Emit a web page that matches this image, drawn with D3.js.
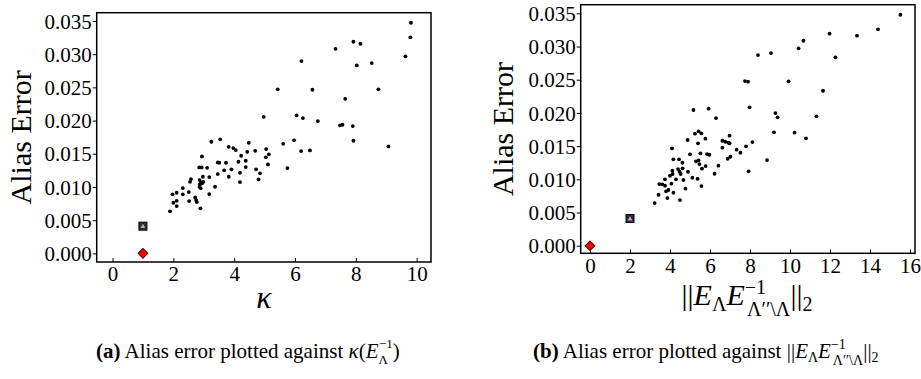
<!DOCTYPE html>
<html>
<head>
<meta charset="utf-8">
<script src="https://cdn.jsdelivr.net/npm/d3@7"></script>
<style>
  body { margin: 0; background: #fff; }
  svg { display: block; }
  text { font-family: "Liberation Serif", serif; fill: #000; }
</style>
</head>
<body>
<svg id="chart" width="921" height="379"></svg>
<script>
// kappa(E^-1) vs alias error (panel a)
const kappaX = [1.89, 1.97, 2.11, 2.0, 2.11, 2.11, 2.31, 2.31, 2.51, 2.52, 2.55, 2.58, 2.72, 2.75, 2.77,
  2.86, 2.85, 2.93, 2.94, 2.9, 2.87, 2.86, 2.9, 2.94, 2.97, 2.99, 2.89, 3.11, 3.18, 3.18, 3.25, 3.37,
  3.46, 3.46, 3.54, 3.51, 3.67, 3.73, 3.82, 3.82, 3.91, 3.97, 4.05, 4.14, 4.19, 4.19, 4.23, 4.38, 4.38,
  4.43, 4.48, 4.69, 4.72, 4.85, 4.8, 4.97, 5.05, 5.04, 5.14, 5.11, 5.43, 5.61, 5.75, 5.97, 6.05, 6.21,
  6.2, 6.26, 6.49, 6.57, 6.75, 7.33, 7.48, 7.56, 7.65, 7.9, 7.92, 7.92, 8.03, 8.15, 8.52, 8.74, 9.81,
  9.79, 9.63, 9.07];
const kappaErr = [0.00633, 0.00889, 0.00913, 0.00762, 0.00792, 0.00712, 0.00983, 0.00889, 0.00923, 0.00788,
  0.01078, 0.01119, 0.00843, 0.00803, 0.00773, 0.01104, 0.01295, 0.01295, 0.0146, 0.01074, 0.01039,
  0.01003, 0.00979, 0.01054, 0.01154, 0.01078, 0.00678, 0.01289, 0.01149, 0.00893, 0.01681, 0.01003,
  0.01194, 0.0137, 0.01717, 0.01365, 0.0125, 0.01365, 0.01605, 0.01154, 0.01265, 0.01586, 0.01556,
  0.0138, 0.01214, 0.01074, 0.0147, 0.01395, 0.013, 0.0153, 0.01666, 0.01545, 0.01265, 0.01205, 0.01114,
  0.02057, 0.01571, 0.01446, 0.01491, 0.0134, 0.0247, 0.0165, 0.01285, 0.01702, 0.02078, 0.02896,
  0.01541, 0.02038, 0.01551, 0.02464, 0.01992, 0.03081, 0.01928, 0.01937, 0.02328, 0.01917, 0.03187,
  0.01696, 0.02831, 0.03157, 0.02866, 0.0247, 0.03473, 0.03253, 0.02967, 0.01611];

// ||E E^-1||_2 vs alias error (panel b)
const normX = [3.23, 3.43, 3.47, 3.62, 3.75, 3.75, 3.8, 3.87, 3.92, 4.0, 4.07, 4.1, 4.12, 4.13, 4.17, 4.17,
  4.3, 4.4, 4.45, 4.48, 4.5, 4.53, 4.62, 4.63, 4.67, 4.77, 4.88, 4.9, 5.0, 5.12, 5.17, 5.25, 5.3, 5.38,
  5.4, 5.43, 5.43, 5.47, 5.52, 5.57, 5.57, 5.6, 5.77, 5.78, 5.85, 5.93, 5.97, 6.23, 6.3, 6.42, 6.62,
  6.62, 6.77, 6.88, 6.93, 6.98, 6.98, 7.02, 7.33, 7.52, 7.75, 7.8, 7.9, 7.93, 7.98, 8.12, 8.4, 8.85,
  9.05, 9.2, 9.27, 9.38, 9.93, 10.23, 10.43, 10.67, 10.8, 11.32, 11.65, 11.98, 12.27, 13.35, 14.4, 15.52];
const normErr = [0.00643, 0.00768, 0.00929, 0.00925, 0.01, 0.00904, 0.00819, 0.00718, 0.00839, 0.01054,
  0.00934, 0.01467, 0.0113, 0.0108, 0.01301, 0.00798, 0.01, 0.01155, 0.01301, 0.01114, 0.00688, 0.0108,
  0.0125, 0.01165, 0.0099, 0.00859, 0.01592, 0.01114, 0.01376, 0.01024, 0.02044, 0.01687, 0.01271,
  0.01009, 0.01542, 0.01723, 0.01286, 0.0123, 0.01391, 0.01693, 0.00899, 0.0116, 0.01612, 0.012,
  0.01381, 0.02064, 0.0137, 0.01084, 0.01923, 0.01205, 0.01581, 0.01476, 0.01566, 0.0131, 0.01551,
  0.01657, 0.01542, 0.0134, 0.01446, 0.014, 0.0248, 0.01497, 0.0247, 0.0112, 0.02084, 0.01561, 0.02872,
  0.0129, 0.02902, 0.01708, 0.01998, 0.01934, 0.02476, 0.01702, 0.02973, 0.03087, 0.01617, 0.01949,
  0.02334, 0.03193, 0.02837, 0.03163, 0.03259, 0.03479];

// the two highlighted sets: [x, error]
const kappaSquare = [1, 0.0041];
const kappaDiamond = [1, 0];
const normSquare = [2, 0.0041];
const normDiamond = [0, 0];

const yTicks = [0, 0.005, 0.01, 0.015, 0.02, 0.025, 0.03, 0.035];
const kappaTicks = [0, 2, 4, 6, 8, 10];
const normTicks = [0, 2, 4, 6, 8, 10, 12, 14, 16];

const serif = "'Liberation Serif', serif";
const svg = d3.select("#chart");

// append a run of text pieces, each with its own style and offset
function richText(parent, x, y, size, anchor, parts) {
  const t = parent.append("text")
    .attr("x", x).attr("y", y)
    .attr("font-size", size)
    .attr("font-family", serif)
    .attr("text-anchor", anchor);
  parts.forEach(p => {
    const s = t.append("tspan").text(p.t);
    if (p.it) s.attr("font-style", "italic");
    if (p.b) s.attr("font-weight", "bold");
    if (p.fs) s.attr("font-size", p.fs);
    if (p.dx) s.attr("dx", p.dx);
    if (p.dy) s.attr("dy", p.dy);
  });
  return t;
}

function drawPanel(opt) {
  const x = d3.scaleLinear().domain(opt.xDomain).range([opt.left, opt.right]);
  const y = d3.scaleLinear().domain(opt.yDomain).range([opt.bottom, opt.top]);
  const g = svg.append("g");

  const xAxis = g.append("g")
    .attr("transform", "translate(0," + opt.bottom + ")")
    .call(d3.axisBottom(x).tickValues(opt.xTicks).tickSize(-4).tickFormat(d3.format("d")))
    .attr("font-family", serif).attr("font-size", 21);
  xAxis.select(".domain").remove();
  xAxis.selectAll("text").attr("dy", 0).attr("y", opt.xLabelOffset);

  const yAxis = g.append("g")
    .attr("transform", "translate(" + opt.left + ",0)")
    .call(d3.axisLeft(y).tickValues(yTicks).tickSize(4).tickPadding(1).tickFormat(d3.format(".3f")))
    .attr("font-family", serif).attr("font-size", 21);
  yAxis.select(".domain").remove();
  yAxis.selectAll("text").attr("dy", "0.34em");
  g.selectAll(".tick line").attr("stroke", "#000").attr("stroke-width", 1);

  g.append("rect")
    .attr("x", opt.left).attr("y", opt.top)
    .attr("width", opt.right - opt.left).attr("height", opt.bottom - opt.top)
    .attr("fill", "none").attr("stroke", "#000").attr("stroke-width", 1.5);

  g.append("g").selectAll("circle")
    .data(d3.range(opt.xs.length))
    .join("circle")
    .attr("cx", i => x(opt.xs[i]))
    .attr("cy", i => y(opt.ys[i]))
    .attr("r", 1.9)
    .attr("fill", "#000");

  // square with a small triangle inside
  const sx = x(opt.square[0]), sy = y(opt.square[1]);
  g.append("rect")
    .attr("x", sx - 4).attr("y", sy - 4).attr("width", 8).attr("height", 8)
    .attr("fill", "#1e2a66").attr("stroke", "#000").attr("stroke-width", 1);
  g.append("path")
    .attr("transform", "translate(" + sx + "," + (sy + 0.5) + ")")
    .attr("d", d3.symbol(d3.symbolTriangle, 10)())
    .attr("fill", "#f5a623");

  const dx = x(opt.diamond[0]), dy = y(opt.diamond[1]);
  g.append("path")
    .attr("transform", "translate(" + dx + "," + dy + ") rotate(45)")
    .attr("d", "M-3.4,-3.4H3.4V3.4H-3.4Z")
    .attr("fill", "#ff0000").attr("stroke", "#5a0000").attr("stroke-width", 1);

  g.append("text")
    .attr("transform", "translate(" + opt.yLabelX + "," + (opt.top + opt.bottom) / 2 + ") rotate(-90)")
    .attr("text-anchor", "middle")
    .attr("font-family", serif)
    .attr("font-size", 30)
    .text("Alias Error");
}

drawPanel({
  left: 96.7, right: 431, top: 12.7, bottom: 262,
  xDomain: [-0.52, 10.47], yDomain: [-0.0013, 0.036245],
  xTicks: kappaTicks, xLabelOffset: 19,
  xs: kappaX, ys: kappaErr, square: kappaSquare, diamond: kappaDiamond,
  yLabelX: 31
});

drawPanel({
  left: 580.7, right: 915, top: 4.7, bottom: 253.3,
  xDomain: [-0.465, 16.25], yDomain: [-0.00114, 0.0363],
  xTicks: normTicks, xLabelOffset: 20,
  xs: normX, ys: normErr, square: normSquare, diamond: normDiamond,
  yLabelX: 513
});

// axis titles
richText(svg, 264, 308, 32, "middle", [{ t: "κ", it: true }]);
richText(svg, 747, 305, 30, "middle", [
  { t: "||" }, { t: "E", it: true }, { t: "Λ", fs: 20, dy: 6 },
  { t: "E", it: true, dy: -6 }, { t: "−1", fs: 20, dy: -11 },
  { t: "Λ′′\\Λ", fs: 20, dx: -19, dy: 22 },
  { t: "||", dy: -11 }, { t: "2", fs: 20, dy: 6 }
]);

// captions
richText(svg, 96, 358, 21, "start", [
  { t: "(a)", b: true }, { t: " Alias error plotted against " },
  { t: "κ", it: true }, { t: "(" }, { t: "E", it: true },
  { t: "Λ", fs: 13, dy: 6 }, { t: "−1", fs: 13, dx: -9, dy: -16 }, { t: ")", dy: 10 }
]);
richText(svg, 533, 358, 21, "start", [
  { t: "(b)", b: true }, { t: " Alias error plotted against " },
  { t: "||" }, { t: "E", it: true }, { t: "Λ", fs: 14, dy: 4 },
  { t: "E", it: true, dy: -4 }, { t: "−1", fs: 14, dy: -9 },
  { t: "Λ′′\\Λ", fs: 14, dx: -13, dy: 16 }, { t: "||", dy: -7 }, { t: "2", fs: 14, dy: 4 }
]);
</script>
</body>
</html>
